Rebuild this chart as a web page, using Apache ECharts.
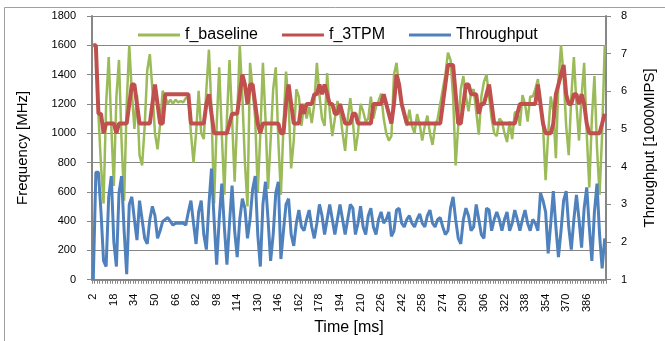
<!DOCTYPE html>
<html>
<head>
<meta charset="utf-8">
<script src="https://cdn.jsdelivr.net/npm/echarts@6/dist/echarts.min.js"></script>
<style>
  html, body { margin: 0; padding: 0; background: #fff; }
  #chart { width: 665px; height: 341px; }
</style>
</head>
<body>
<div id="chart"></div>
<script>
// time axis [ms]
const timeMs = [
  2, 4, 6, 8, 10, 12, 14, 16, 18, 20, 22, 24, 26, 28, 30, 32, 34, 36, 38, 40,
  42, 44, 46, 48, 50, 52, 54, 56, 58, 60, 62, 64, 66, 68, 70, 72, 74, 76, 78, 80,
  82, 84, 86, 88, 90, 92, 94, 96, 98, 100, 102, 104, 106, 108, 110, 112, 114, 116, 118, 120,
  122, 124, 126, 128, 130, 132, 134, 136, 138, 140, 142, 144, 146, 148, 150, 152, 154, 156, 158, 160,
  162, 164, 166, 168, 170, 172, 174, 176, 178, 180, 182, 184, 186, 188, 190, 192, 194, 196, 198, 200,
  202, 204, 206, 208, 210, 212, 214, 216, 218, 220, 222, 224, 226, 228, 230, 232, 234, 236, 238, 240,
  242, 244, 246, 248, 250, 252, 254, 256, 258, 260, 262, 264, 266, 268, 270, 272, 274, 276, 278, 280,
  282, 284, 286, 288, 290, 292, 294, 296, 298, 300, 302, 304, 306, 308, 310, 312, 314, 316, 318, 320,
  322, 324, 326, 328, 330, 332, 334, 336, 338, 340, 342, 344, 346, 348, 350, 352, 354, 356, 358, 360,
  362, 364, 366, 368, 370, 372, 374, 376, 378, 380, 382, 384, 386, 388, 390, 392, 394, 396, 398, 400
]

// MHz
const fBaseline = [
  1600, 1600, 1130, 780, 520, 1200, 1520, 1050, 640, 1250,
  1500, 950, 540, 1200, 1600, 1280, 1030, 1260, 850, 780,
  1050, 1430, 1540, 1300, 1000, 890, 1060, 1290, 1250, 1200,
  1230, 1200, 1230, 1210, 1220, 1210, 1240, 1250, 1000, 800,
  1000, 1290, 1000, 960, 1300, 1570, 1150, 520, 1050, 1450,
  1000, 580, 1100, 1500, 1100, 670, 1100, 1600, 1250, 800,
  500, 1480, 1300, 1100, 600, 1000, 1480, 1100, 620, 950,
  1300, 1450, 950, 580, 1050, 1420, 1200, 760, 950, 1300,
  1250, 1050, 1200, 1100, 1180, 1070, 1200, 1480, 1260, 1100,
  1050, 1410, 1150, 980, 1100, 1220, 1150, 1000, 880, 1100,
  1240, 1080, 880, 1000, 1200, 1150, 1080, 1100, 1250, 1100,
  1180, 1220, 1270, 1100, 1000, 950, 980, 1400, 1480, 1300,
  1200, 1120, 1050, 1160, 1050, 1000, 1130, 1060, 950, 1050,
  1120, 1000, 920, 1050, 1100, 1200, 1300, 1400, 1550, 1500,
  1250, 780, 1050, 1300, 1390, 1250, 1150, 1280, 1300, 1150,
  990, 1250, 1350, 1400, 1250, 1100, 1000, 980, 1100, 1080,
  1000, 940, 1080, 960, 1140, 1150, 1050, 1260, 1200, 1080,
  1250, 1250, 1300, 1370, 1200, 1050, 680, 1000, 1250, 1150,
  830, 1350, 1600, 1400, 1050, 850, 1250, 1520, 1200, 950,
  1250, 1480, 1000, 630, 1100, 1390, 900, 580, 1000, 1600
]

// MHz
const f3TPM = [
  1600, 1600, 1133, 1133, 1000, 1066, 1066, 1066, 1066, 1000,
  1066, 1066, 1066, 1066, 1200, 1333, 1333, 1200, 1066, 1066,
  1066, 1066, 1066, 1200, 1333, 1200, 1066, 1066, 1266, 1266,
  1266, 1266, 1266, 1266, 1266, 1266, 1266, 1266, 1066, 1066,
  1066, 1066, 1066, 1066, 1200, 1266, 1133, 1000, 1000, 1000,
  1000, 1000, 1000, 1066, 1133, 1133, 1133, 1266, 1400, 1333,
  1200, 1333, 1333, 1200, 1066, 1000, 1066, 1066, 1066, 1066,
  1066, 1066, 1066, 1000, 1000, 1200, 1333, 1200, 1066, 1066,
  1066, 1200, 1133, 1200, 1200, 1200, 1266, 1266, 1333, 1266,
  1333, 1266, 1200, 1200, 1133, 1133, 1200, 1133, 1066, 1066,
  1066, 1133, 1133, 1066, 1066, 1066, 1066, 1066, 1066, 1200,
  1200, 1200, 1200, 1266, 1200, 1133, 1066, 1200, 1400, 1333,
  1200, 1133, 1066, 1066, 1066, 1066, 1066, 1066, 1066, 1066,
  1066, 1066, 1066, 1066, 1066, 1066, 1200, 1333, 1466, 1466,
  1466, 1266, 1066, 1066, 1200, 1333, 1333, 1266, 1266, 1266,
  1133, 1200, 1200, 1266, 1333, 1200, 1066, 1066, 1066, 1066,
  1066, 1066, 1066, 1066, 1066, 1133, 1200, 1200, 1200, 1200,
  1200, 1200, 1200, 1333, 1200, 1066, 1000, 1000, 1000, 1066,
  1266, 1333, 1400, 1466, 1266, 1200, 1200, 1266, 1266, 1200,
  1266, 1200, 1066, 1000, 1000, 1000, 1000, 1000, 1066, 1133
]

// 1000 MIPS
const throughput = [
  1.0, 3.85, 3.85, 2.8, 1.5, 1.35, 3.2, 3.75, 2.0, 1.35,
  3.3, 3.75, 2.3, 1.15, 3.0, 3.2, 2.6, 2.05, 3.1, 2.6,
  2.1, 1.95, 2.6, 2.95, 2.7, 2.1, 2.3, 2.55, 2.6, 2.65,
  2.55, 2.45, 2.5, 2.5, 2.5, 2.5, 2.45, 2.8, 3.1, 2.5,
  1.95, 2.8, 3.1, 2.2, 1.8, 3.0, 3.95, 2.6, 1.4, 2.6,
  3.55, 2.4, 1.4, 2.5, 3.5, 2.3, 1.6, 2.6, 3.15, 2.9,
  2.1, 2.6, 3.4, 3.75, 2.2, 1.35, 3.0, 3.6, 2.6, 1.5,
  2.2, 3.3, 3.6, 1.55, 2.3, 3.0, 3.15, 2.2, 1.9, 2.5,
  2.85, 2.4, 2.3, 2.6, 2.85, 2.4, 2.1, 2.5, 3.0, 2.7,
  2.2, 2.6, 3.0, 2.6, 2.2, 2.6, 3.0, 2.6, 2.2, 2.6,
  3.0, 2.9, 2.2, 2.5, 2.95, 2.4, 2.2, 2.7, 2.9, 2.4,
  2.2, 2.6, 2.8, 2.5, 2.6, 2.8, 2.15, 2.3, 2.85, 2.9,
  2.5, 2.4, 2.6, 2.7, 2.5, 2.4, 2.6, 2.75, 2.5, 2.4,
  2.7, 2.85, 2.5, 2.4, 2.6, 2.65, 2.4, 2.2, 2.3, 2.9,
  3.2, 2.6, 2.1, 1.95, 2.6, 2.9, 2.7, 2.3, 2.4, 3.0,
  2.6, 2.2, 2.1, 2.9, 2.85, 2.3, 2.6, 2.8, 2.6, 2.3,
  2.6, 2.8, 2.3, 2.5, 2.85, 2.6, 2.3, 2.6, 2.85, 2.5,
  2.3, 2.6, 2.5, 2.3, 3.3, 3.1, 2.8, 1.7, 2.5, 3.35,
  2.4, 1.6, 2.3, 3.1, 3.35, 2.4, 1.8, 2.6, 3.25, 2.6,
  1.85, 2.9, 3.45, 2.4, 1.5, 2.8, 3.55, 2.2, 1.3, 2.1
]

const green = '#9bbb59'
const red = '#c0504d'
const blue = '#4f81bd'
const axisGray = '#868686'
const font = "'Liberation Sans', Arial, sans-serif"

const chart = echarts.init(document.getElementById('chart'), null, { renderer: 'canvas' })

const option = {
  animation: false,
  backgroundColor: '#fff',
  textStyle: { fontFamily: font, color: '#000' },
  graphic: [
    {
      type: 'rect',
      shape: { x: 4.5, y: 7.5, width: 670, height: 340 },
      style: { fill: null, stroke: '#a0a0a0', lineWidth: 1 },
      silent: true,
    },
  ],
  grid: { left: 92, right: 58, top: 16, bottom: 58 },
  legend: {
    left: 133,
    top: 22,
    itemWidth: 42,
    itemHeight: 3,
    itemGap: 24,
    icon: 'rect',
    textStyle: { fontFamily: font, fontSize: 16, color: '#000' },
    data: ['f_baseline', 'f_3TPM', 'Throughput'],
  },
  xAxis: {
    type: 'category',
    data: timeMs,
    boundaryGap: true,
    name: 'Time [ms]',
    nameLocation: 'middle',
    nameGap: 40,
    nameTextStyle: { fontFamily: font, fontSize: 16, color: '#000' },
    axisLine: { show: true, lineStyle: { color: axisGray, width: 2 } },
    axisTick: { show: true, interval: 0, length: 4, lineStyle: { color: axisGray } },
    axisLabel: { interval: 7, rotate: 90, margin: 14, fontSize: 11, color: '#000', fontFamily: font },
    splitLine: { show: false },
  },
  yAxis: [
    {
      type: 'value',
      min: 0,
      max: 1800,
      interval: 200,
      name: 'Frequency [MHz]',
      nameLocation: 'middle',
      nameGap: 62,
      nameTextStyle: { fontFamily: font, fontSize: 15, color: '#000' },
      axisLine: { show: true, lineStyle: { color: axisGray, width: 2 } },
      axisTick: { show: true, length: 5, lineStyle: { color: axisGray } },
      axisLabel: {
        margin: 16, fontSize: 11, color: '#000', fontFamily: font,
        formatter: function (v) { return String(v) },
      },
      splitLine: { show: true, lineStyle: { color: axisGray, width: 1 } },
    },
    {
      type: 'value',
      min: 1,
      max: 8,
      interval: 1,
      position: 'right',
      name: 'Throughput [1000MIPS]',
      nameLocation: 'middle',
      nameGap: 36,
      nameTextStyle: { fontFamily: font, fontSize: 15, color: '#000' },
      axisLine: { show: true, lineStyle: { color: axisGray, width: 2 } },
      axisTick: { show: true, length: 5, lineStyle: { color: axisGray } },
      axisLabel: {
        margin: 15, fontSize: 11, color: '#000', fontFamily: font,
        formatter: function (v) { return String(v) },
      },
      splitLine: { show: false },
    },
  ],
  series: [
    {
      name: 'f_baseline',
      type: 'line',
      yAxisIndex: 0,
      data: fBaseline,
      showSymbol: false,
      color: green,
      lineStyle: { color: green, width: 2.5 },
      z: 2,
    },
    {
      name: 'f_3TPM',
      type: 'line',
      yAxisIndex: 0,
      data: f3TPM,
      showSymbol: false,
      color: red,
      lineStyle: { color: red, width: 4 },
      z: 3,
    },
    {
      name: 'Throughput',
      type: 'line',
      yAxisIndex: 1,
      data: throughput,
      showSymbol: false,
      color: blue,
      lineStyle: { color: blue, width: 3 },
      z: 4,
    },
  ],
}

chart.setOption(option)
</script>
</body>
</html>
